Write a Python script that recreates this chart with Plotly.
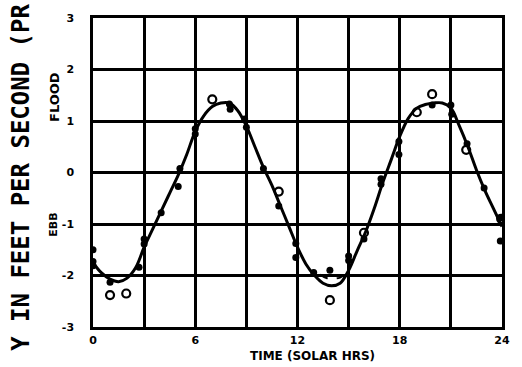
import plotly.graph_objects as go

# Smooth (predicted) curve
curve_t = [0, 0.5, 1, 1.5, 2, 2.5, 3, 3.5, 4, 4.5, 5, 5.5, 6, 6.5, 7, 7.5, 8, 8.5, 9, 9.5,
           10, 10.5, 11, 11.5, 12, 12.5, 13, 13.5, 14, 14.5, 15, 15.5, 16, 16.5, 17, 17.5,
           18, 18.5, 19, 19.5, 20, 20.5, 21, 21.5, 22, 22.5, 23, 23.5, 24]
curve_v = [-1.75, -1.95, -2.07, -2.12, -2.05, -1.85, -1.45, -1.1, -0.75, -0.4, -0.05, 0.35,
           0.8, 1.1, 1.28, 1.35, 1.35, 1.2, 0.9, 0.5, 0.1, -0.25, -0.65, -1.05, -1.45, -1.78,
           -2.0, -2.15, -2.2, -2.15, -1.9, -1.52, -1.15, -0.7, -0.2, 0.25, 0.7, 1.05, 1.25,
           1.32, 1.35, 1.35, 1.25, 0.9, 0.5, 0.05, -0.35, -0.7, -1.05]

# Short dashed curve near the second ebb minimum
dash_t = [13.3, 13.7, 14.1, 14.5, 14.9]
dash_v = [-1.98, -2.05, -2.06, -2.04, -1.95]

# Filled points
dot_t = [0, 0, 0, 1.0, 2.7, 3.0, 3.0, 4.0, 5.0, 5.1, 6.0, 6.0, 8.0, 8.05, 8.9, 9.0, 10.0,
         10.9, 11.9, 11.9, 12.95, 13.9, 15.0, 15.0, 15.9, 16.9, 16.9, 17.95, 17.95, 19.9,
         21.0, 21.05, 21.95, 22.95, 23.9, 23.9]
dot_v = [-1.5, -1.73, -1.81, -2.13, -1.84, -1.29, -1.39, -0.78, -0.27, 0.08, 0.85, 0.75,
         1.33, 1.23, 1.04, 0.88, 0.08, -0.65, -1.38, -1.65, -1.94, -1.9, -1.71, -1.62,
         -1.29, -0.23, -0.12, 0.6, 0.35, 1.31, 1.31, 1.13, 0.56, -0.3, -0.88, -1.33]

# Open points
open_t = [1.0, 1.95, 7.0, 10.9, 13.9, 15.9, 19.0, 19.9, 21.9, 23.95]
open_v = [-2.38, -2.35, 1.42, -0.37, -2.48, -1.17, 1.17, 1.52, 0.44, -0.9]

x_tickvals = [0, 3, 6, 9, 12, 15, 18, 21, 24]
x_ticktext = ["0", "", "6", "", "12", "", "18", "", "24"]
y_tickvals = [-3, -2, -1, 0, 1, 2, 3]
y_ticktext = ["-3", "-2", "-1", "0", "1", "2", "3"]

fig = go.Figure()
fig.add_trace(go.Scatter(x=curve_t, y=curve_v, mode="lines", line=dict(color="black", width=3, shape="spline"),
                         showlegend=False, hoverinfo="skip"))
fig.add_trace(go.Scatter(x=dash_t, y=dash_v, mode="lines", line=dict(color="black", width=2, dash="dash", shape="spline"),
                         showlegend=False, hoverinfo="skip"))
fig.add_trace(go.Scatter(x=dot_t, y=dot_v, mode="markers", marker=dict(color="black", size=7, symbol="circle"),
                         showlegend=False))
fig.add_trace(go.Scatter(x=open_t, y=open_v, mode="markers",
                         marker=dict(color="black", size=8, symbol="circle-open", line=dict(width=2.2)),
                         showlegend=False))

tickfont = dict(family="DejaVu Sans", size=11, color="black", weight="bold")
fig.update_xaxes(range=[0, 24], tickvals=x_tickvals, ticktext=x_ticktext, showgrid=True,
                 gridcolor="black", gridwidth=2.5, showline=True, linecolor="black", linewidth=2.5,
                 mirror=True, zeroline=False, ticks="outside", ticklen=1, tickcolor="rgba(0,0,0,0)",
                 tickfont=tickfont)
fig.update_yaxes(range=[-3, 3], tickvals=y_tickvals, ticktext=y_ticktext, showgrid=True,
                 gridcolor="black", gridwidth=2.5, showline=True, linecolor="black", linewidth=2.5,
                 mirror=True, zeroline=False, ticks="outside", ticklen=14, tickcolor="rgba(0,0,0,0)",
                 tickfont=tickfont)

L, R, T, B = 93, 12, 15, 40
pw = 522 - L - R
ph = 367 - T - B

def px(xpix):
    return (xpix - L) / pw

def py(ypix):
    return (367 - B - ypix) / ph

annotations = [
    dict(text="Y IN FEET PER SECOND (PR", x=px(20), y=py(176), xref="paper", yref="paper",
         textangle=-90, showarrow=False, xanchor="center", yanchor="middle",
         font=dict(family="DejaVu Sans Mono", size=24, color="black", weight="bold")),
    dict(text="FLOOD", x=px(53), y=py(95), xref="paper", yref="paper", textangle=-90,
         showarrow=False, xanchor="center", yanchor="middle",
         font=dict(family="DejaVu Sans", size=13, color="black", weight="bold")),
    dict(text="EBB", x=px(53), y=py(224), xref="paper", yref="paper", textangle=-90,
         showarrow=False, xanchor="center", yanchor="middle",
         font=dict(family="DejaVu Sans", size=11, color="black", weight="bold")),
    dict(text="TIME (SOLAR HRS)", x=px(317), y=py(356), xref="paper", yref="paper",
         showarrow=False, xanchor="center", yanchor="middle",
         font=dict(family="DejaVu Sans", size=12, color="black", weight="bold")),
]

fig.update_layout(width=522, height=367, margin=dict(l=L, r=R, t=T, b=B),
                  paper_bgcolor="white", plot_bgcolor="white", annotations=annotations,
                  showlegend=False)

fig.write_html("out.html")
